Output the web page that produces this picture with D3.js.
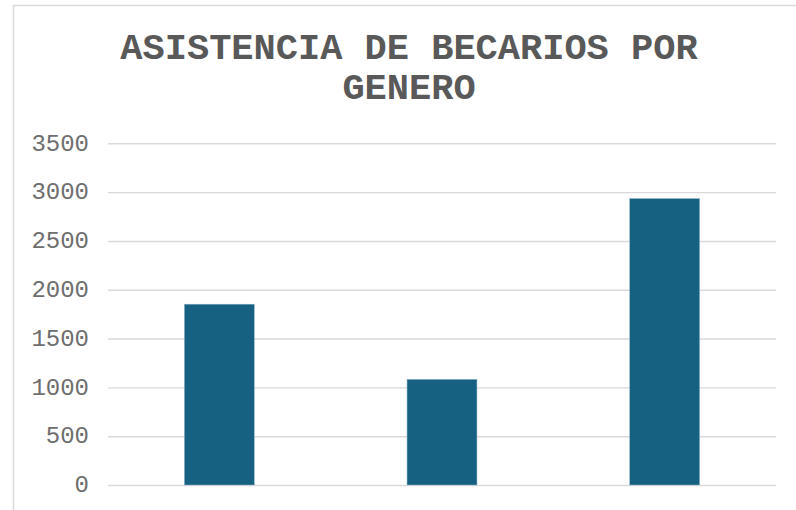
<!DOCTYPE html>
<html>
<head>
    <meta charset="utf-8">
    <script type="text/javascript" src="https://cdn.jsdelivr.net/npm/d3@7"></script>
    <style>
        body { margin: 0; background: #fff; }
    </style>
</head>

<body>
    <div id="viz"></div>
    <script type="text/javascript">

    // data (category names are not shown in it)
    var categories = ["Femenino", "Masculino", "Total"];
    var values = [1852, 1082, 2934];
    var yTicks = [0, 500, 1000, 1500, 2000, 2500, 3000, 3500];
    var titleLines = ["ASISTENCIA DE BECARIOS POR", "GENERO"];

    var width = 796, height = 510;
    var plot = {left: 108, right: 776, top: 143.3, bottom: 485};

    var svg = d3.select("#viz")
        .append("svg")
        .attr("width", width)
        .attr("height", height);

    // outer chart border, cut off on the right and bottom
    svg.append("rect")
        .attr("x", 13.5)
        .attr("y", 5.5)
        .attr("width", width + 20)
        .attr("height", height + 20)
        .style("fill", "white")
        .style("stroke", "#d9d9d9")
        .style("stroke-width", 1.5);

    var x = d3.scaleBand()
        .domain(categories)
        .range([plot.left, plot.right])
        .paddingInner(0.686)
        .paddingOuter(0.343);

    var y = d3.scaleLinear()
        .domain([0, 3500])
        .range([plot.bottom, plot.top]);

    // gridlines + tick labels through a d3 axis
    var yAxis = d3.axisLeft(y)
        .tickValues(yTicks)
        .tickSize(-(plot.right - plot.left))
        .tickPadding(19)
        .tickFormat(d3.format("d"));

    var gy = svg.append("g")
        .attr("transform", "translate(" + plot.left + ",0)")
        .call(yAxis);

    gy.select(".domain").remove();
    gy.selectAll(".tick line")
        .style("stroke", "#d9d9d9")
        .style("stroke-width", 1.4);
    gy.selectAll(".tick text")
        .attr("dy", "0.28em")
        .style("font-family", "'Liberation Mono', 'Courier New', monospace")
        .style("font-size", "24px")
        .style("fill", "#6e6e6e");

    svg.selectAll("rect.bar")
        .data(values)
        .enter().append("rect")
        .attr("class", "bar")
        .attr("x", function(d, i){ return x(categories[i]); })
        .attr("width", x.bandwidth())
        .attr("y", function(d){ return y(d); })
        .attr("height", function(d){ return y(0) - y(d); })
        .style("fill", "#166081")
        .style("stroke", "#8db4c8")
        .style("stroke-width", 0.5);

    svg.selectAll("text.title")
        .data(titleLines)
        .enter().append("text")
        .attr("class", "title")
        .attr("x", 409)
        .attr("y", function(d, i){ return 59 + i * 39.5; })
        .attr("text-anchor", "middle")
        .style("font-family", "'Liberation Mono', 'Courier New', monospace")
        .style("font-weight", "bold")
        .style("font-size", "37px")
        .style("fill", "#595959")
        .text(function(d){ return d; });

    </script>
</body>
</html>
